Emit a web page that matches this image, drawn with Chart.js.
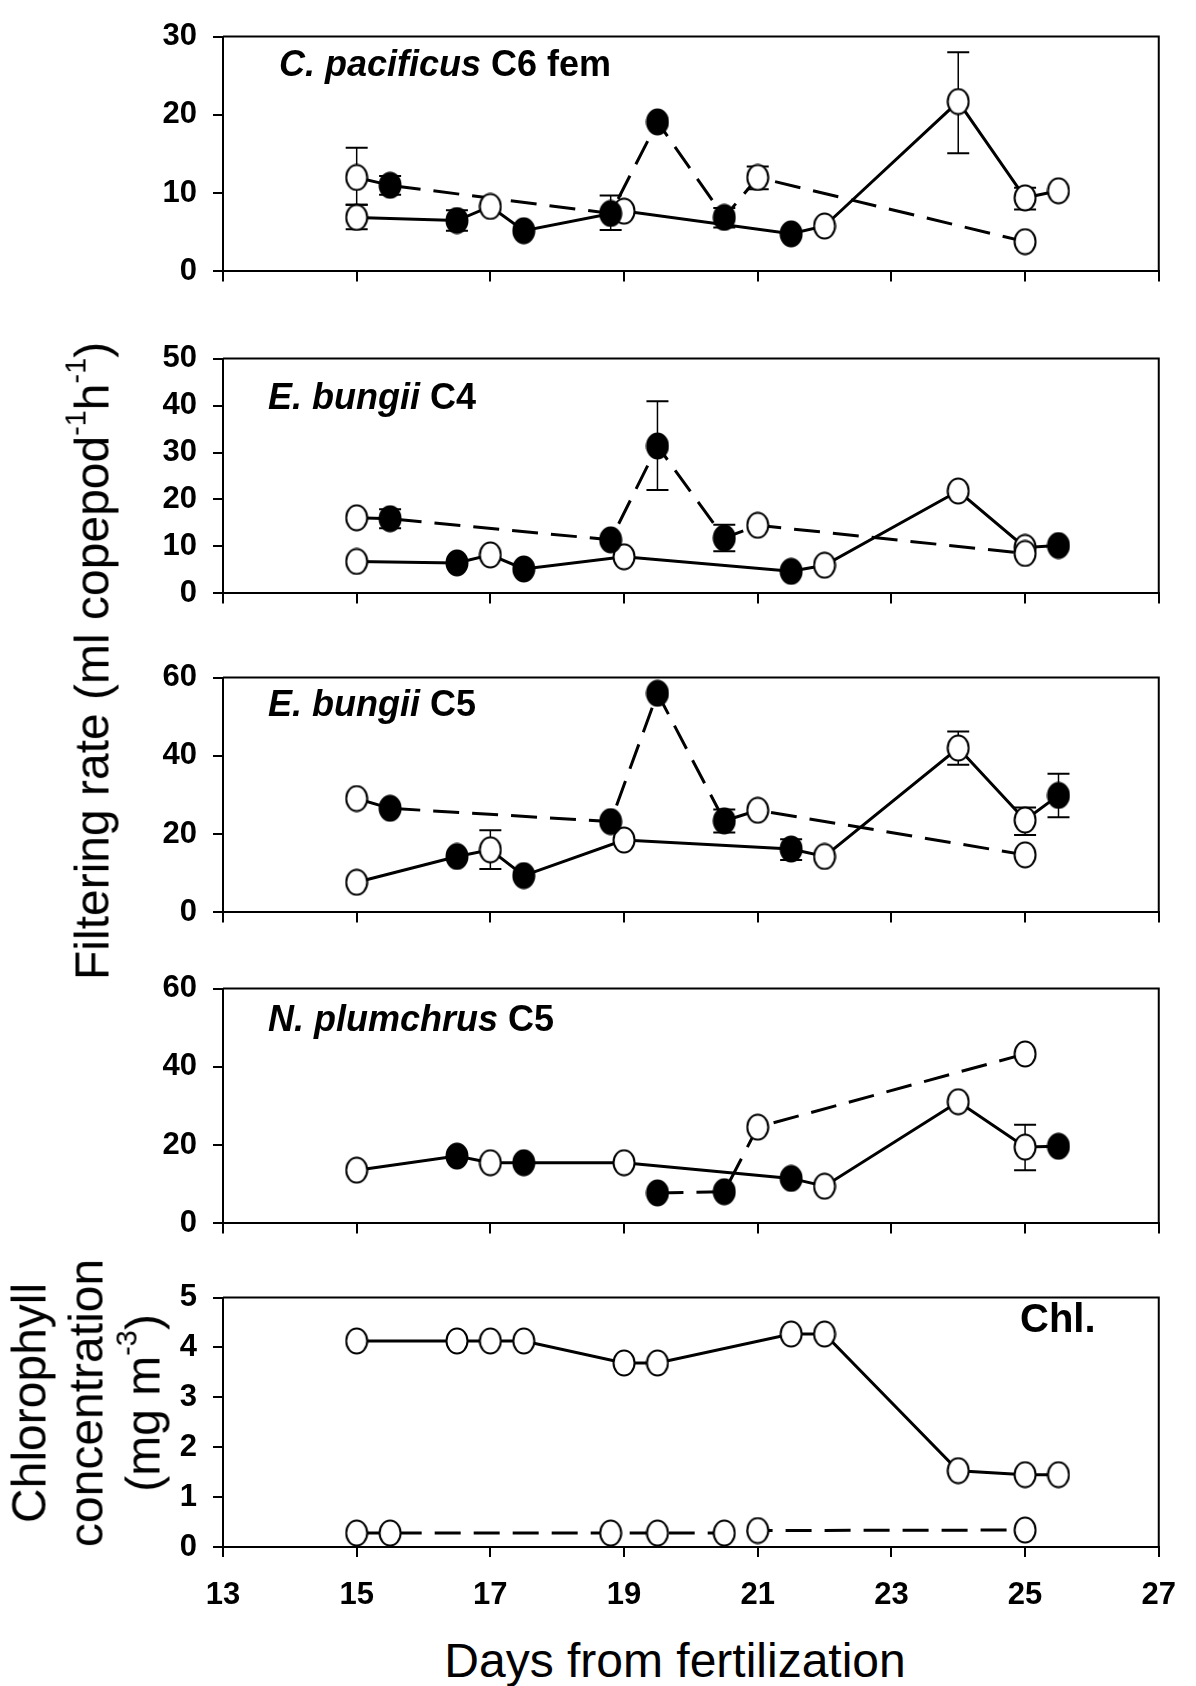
<!DOCTYPE html>
<html>
<head>
<meta charset="utf-8">
<script src="https://cdn.jsdelivr.net/npm/chart.js@4.4.1/dist/chart.umd.min.js"></script>
<style>
  html, body { margin: 0; padding: 0; background: #fff; }
  #wrap { position: relative; width: 1196px; height: 1686px; overflow: hidden; font-family: "Liberation Sans", Arial, sans-serif; color: #000; }
  canvas { position: absolute; left: 0; }
  .label { position: absolute; font-weight: bold; font-size: 36px; line-height: 36px; white-space: nowrap; z-index: 2; }
  .title { position: absolute; font-size: 48px; line-height: 57px; white-space: nowrap; text-align: center; z-index: 2; }
  .rot { transform: translate(-50%, -50%) rotate(-90deg); }
  sup { font-size: 60%; line-height: 0; vertical-align: 0.8em; }
</style>
</head>
<body>
<div id="wrap">
  <canvas id="p1"></canvas>
  <canvas id="p2"></canvas>
  <canvas id="p3"></canvas>
  <canvas id="p4"></canvas>
  <canvas id="p5"></canvas>

  <div class="label" style="left:279px; top:46px;"><i>C. pacificus</i> C6 fem</div>
  <div class="label" style="left:268px; top:379px;"><i>E. bungii</i> C4</div>
  <div class="label" style="left:268px; top:686px;"><i>E. bungii</i> C5</div>
  <div class="label" style="left:268px; top:1001px;"><i>N. plumchrus</i> C5</div>
  <div class="label" style="left:1020px; top:1298px; font-size:40px; line-height:40px;">Chl.</div>

  <div class="title rot" style="left:92px; top:661px;">Filtering rate (ml copepod<sup>-1</sup>h<sup>-1</sup>)</div>
  <div class="title rot" style="left:86px; top:1403px;">Chlorophyll<br>concentration<br>(mg m<sup>-3</sup>)</div>
  <div class="title" style="left:675px; top:1632px; transform: translateX(-50%);">Days from fertilization</div>
</div>

<script>
// x axis (days from fertilization), shared by all panels
const xTickValues = [13, 15, 17, 19, 21, 23, 25, 27];

// C. pacificus C6 fem
const cpYTicks = [0, 10, 20, 30];
const cpSolidDay = [15, 16.5, 17, 17.5, 19, 21.5, 22, 24, 25, 25.5];
const cpSolidRate = [6.9, 6.5, 8.3, 5.2, 7.7, 4.8, 5.8, 21.7, 9.4, 10.3];
const cpSolidFill = [0, 1, 0, 1, 0, 1, 0, 0, 0, 0];
const cpSolidLo = [5.4, 5.2, null, null, null, null, null, 15.1, 7.9, null];
const cpSolidHi = [8.5, 7.8, null, null, null, null, null, 28.0, 10.7, null];
const cpDashDay = [15, 15.5, 18.8, 19.5, 20.5, 21, 25];
const cpDashRate = [12.0, 11.0, 7.4, 19.1, 6.9, 12.0, 3.8];
const cpDashFill = [0, 1, 1, 1, 1, 0, 0];
const cpDashLo = [8.5, 9.8, 5.3, null, 5.6, 10.5, null];
const cpDashHi = [15.8, 12.2, 9.7, null, 8.1, 13.4, null];

// E. bungii C4
const eb4YTicks = [0, 10, 20, 30, 40, 50];
const eb4SolidDay = [15, 16.5, 17, 17.5, 19, 21.5, 22, 24, 25, 25.5];
const eb4SolidRate = [6.8, 6.5, 8.2, 5.2, 7.8, 4.7, 6.0, 21.8, 9.8, 10.2];
const eb4SolidFill = [0, 1, 0, 1, 0, 1, 0, 0, 0, 1];
const eb4DashDay = [15, 15.5, 18.8, 19.5, 20.5, 21, 25];
const eb4DashRate = [16.1, 15.9, 11.4, 31.4, 11.8, 14.5, 8.5];
const eb4DashFill = [0, 1, 1, 1, 1, 0, 0];
const eb4DashLo = [null, 13.9, null, 22.0, 9.0, null, null];
const eb4DashHi = [null, 17.9, null, 40.9, 14.6, null, null];

// E. bungii C5
const eb5YTicks = [0, 20, 40, 60];
const eb5SolidDay = [15, 16.5, 17, 17.5, 19, 21.5, 22, 24, 25, 25.5];
const eb5SolidRate = [7.7, 14.3, 16.0, 9.4, 18.5, 16.2, 14.3, 42.0, 23.6, 29.9];
const eb5SolidFill = [0, 1, 0, 1, 0, 1, 0, 0, 0, 1];
const eb5SolidLo = [null, null, 11.1, null, null, 13.4, null, 37.7, 19.8, 24.3];
const eb5SolidHi = [null, null, 21.0, null, null, 18.7, null, 46.2, 26.8, 35.4];
const eb5DashDay = [15, 15.5, 18.8, 19.5, 20.5, 21, 25];
const eb5DashRate = [29.1, 26.6, 23.2, 56.0, 23.4, 26.1, 14.7];
const eb5DashFill = [0, 1, 1, 1, 1, 0, 0];
const eb5DashLo = [null, null, null, null, 20.4, null, null];
const eb5DashHi = [null, null, null, null, 26.3, null, null];

// N. plumchrus C5
const npYTicks = [0, 20, 40, 60];
const npSolidDay = [15, 16.5, 17, 17.5, 19, 21.5, 22, 24, 25, 25.5];
const npSolidRate = [13.6, 17.2, 15.5, 15.5, 15.5, 11.5, 9.5, 31.1, 19.5, 19.7];
const npSolidFill = [0, 1, 0, 1, 0, 1, 0, 0, 0, 1];
const npSolidLo = [null, null, null, null, null, null, null, null, 13.6, null];
const npSolidHi = [null, null, null, null, null, null, null, null, 25.2, null];
const npDashDay = [19.5, 20.5, 21, 25];
const npDashRate = [7.8, 8.1, 24.6, 43.3];
const npDashFill = [1, 1, 0, 0];

// Chlorophyll
const chlYTicks = [0, 1, 2, 3, 4, 5];
const chlSolidDay = [15, 16.5, 17, 17.5, 19, 19.5, 21.5, 22, 24, 25, 25.5];
const chlSolidConc = [4.13, 4.13, 4.13, 4.13, 3.69, 3.69, 4.27, 4.27, 1.53, 1.45, 1.45];
const chlDashDay = [15, 15.5, 18.8, 19.5, 20.5, 21, 25];
const chlDashConc = [0.28, 0.28, 0.28, 0.28, 0.28, 0.33, 0.34];

Chart.defaults.font.family = '"Liberation Sans", Arial, sans-serif';
Chart.defaults.color = '#000';

const PLOT_H = 264;
const TOP_PAD = 20;

// the symbols in the original are slightly taller than wide
function ovalMarker(filled) {
  const c = document.createElement('canvas');
  c.width = 24;
  c.height = 28;
  const g = c.getContext('2d');
  g.beginPath();
  g.ellipse(12, 14, 10.5, 12.5, 0, 0, Math.PI * 2);
  g.fillStyle = filled ? '#000' : '#fff';
  g.fill();
  g.lineWidth = 2;
  g.strokeStyle = '#000';
  g.stroke();
  return c;
}
const openMarker = ovalMarker(false);
const filledMarker = ovalMarker(true);

// top and right lines of the box
const framePlugin = {
  id: 'frame',
  beforeDatasetsDraw(chart) {
    const a = chart.chartArea, ctx = chart.ctx;
    ctx.save();
    ctx.strokeStyle = '#000';
    ctx.lineWidth = 2;
    ctx.beginPath();
    ctx.moveTo(a.left, a.top);
    ctx.lineTo(a.right, a.top);
    ctx.lineTo(a.right, a.bottom);
    ctx.stroke();
    ctx.restore();
  }
};

const errorBarPlugin = {
  id: 'errorBars',
  beforeDatasetsDraw(chart) {
    const ctx = chart.ctx, xs = chart.scales.x, ys = chart.scales.y;
    ctx.save();
    ctx.strokeStyle = '#000';
    chart.data.datasets.forEach(ds => {
      if (!ds.errLo) return;
      ds.data.forEach((pt, i) => {
        if (ds.errLo[i] == null) return;
        const px = xs.getPixelForValue(pt.x);
        const lo = ys.getPixelForValue(ds.errLo[i]);
        const hi = ys.getPixelForValue(ds.errHi[i]);
        ctx.lineWidth = 1.5;
        ctx.beginPath();
        ctx.moveTo(px, lo); ctx.lineTo(px, hi);
        ctx.stroke();
        ctx.lineWidth = 2;
        ctx.beginPath();
        ctx.moveTo(px - 11, lo); ctx.lineTo(px + 11, lo);
        ctx.moveTo(px - 11, hi); ctx.lineTo(px + 11, hi);
        ctx.stroke();
      });
    });
    ctx.restore();
  }
};

function toPoints(days, vals) {
  return days.map((d, i) => ({ x: d, y: vals[i] }));
}

function seriesSets(s) {
  const data = toPoints(s.day, s.val);
  const fill = s.fill || s.day.map(() => 0);
  return [
    {
      data: data,
      showLine: true,
      borderColor: '#000',
      borderWidth: 3,
      borderDash: s.dashed ? [26, 13] : [],
      pointRadius: 0,
      tension: 0,
      order: 2
    },
    {
      data: data,
      showLine: false,
      pointStyle: fill.map(f => f ? filledMarker : openMarker),
      pointRadius: 12,
      errLo: s.lo || null,
      errHi: s.hi || null,
      order: 1
    }
  ];
}

function makePanel(id, plotTop, yTicks, series, showXLabels) {
  const xAxisH = showXLabels ? 75 : 20;
  const canvas = document.getElementById(id);
  canvas.width = 1196;
  canvas.height = TOP_PAD + PLOT_H + xAxisH;
  canvas.style.top = (plotTop - TOP_PAD) + 'px';

  let datasets = [];
  series.forEach(s => { datasets = datasets.concat(seriesSets(s)); });

  return new Chart(canvas.getContext('2d'), {
    type: 'scatter',
    data: { datasets: datasets },
    options: {
      responsive: false,
      animation: false,
      events: [],
      layout: { padding: { left: 0, right: 24, top: TOP_PAD, bottom: 0 } },
      plugins: { legend: { display: false }, tooltip: { enabled: false } },
      scales: {
        x: {
          type: 'linear',
          min: xTickValues[0],
          max: xTickValues[xTickValues.length - 1],
          afterBuildTicks: sc => { sc.ticks = xTickValues.map(v => ({ value: v })); },
          afterFit: sc => { sc.height = xAxisH; },
          border: { display: true, color: '#000', width: 2 },
          grid: { drawOnChartArea: false, drawTicks: true, tickLength: 10, color: '#000', lineWidth: 2 },
          ticks: {
            color: showXLabels ? '#000' : 'rgba(0,0,0,0)',
            font: { size: 31, weight: 'bold' },
            padding: 20,
            maxRotation: 0,
            autoSkip: false
          }
        },
        y: {
          type: 'linear',
          min: yTicks[0],
          max: yTicks[yTicks.length - 1],
          afterBuildTicks: sc => { sc.ticks = yTicks.map(v => ({ value: v })); },
          afterFit: sc => { sc.width = 223; },
          border: { display: true, color: '#000', width: 2 },
          grid: { drawOnChartArea: false, drawTicks: true, tickLength: 10, color: '#000', lineWidth: 2 },
          ticks: {
            font: { size: 31, weight: 'bold' },
            padding: 16,
            autoSkip: false
          }
        }
      }
    },
    plugins: [framePlugin, errorBarPlugin]
  });
}

makePanel('p1', 22, cpYTicks, [
  { day: cpDashDay, val: cpDashRate, fill: cpDashFill, lo: cpDashLo, hi: cpDashHi, dashed: true },
  { day: cpSolidDay, val: cpSolidRate, fill: cpSolidFill, lo: cpSolidLo, hi: cpSolidHi, dashed: false }
], false);

makePanel('p2', 344, eb4YTicks, [
  { day: eb4DashDay, val: eb4DashRate, fill: eb4DashFill, lo: eb4DashLo, hi: eb4DashHi, dashed: true },
  { day: eb4SolidDay, val: eb4SolidRate, fill: eb4SolidFill, dashed: false }
], false);

makePanel('p3', 663, eb5YTicks, [
  { day: eb5DashDay, val: eb5DashRate, fill: eb5DashFill, lo: eb5DashLo, hi: eb5DashHi, dashed: true },
  { day: eb5SolidDay, val: eb5SolidRate, fill: eb5SolidFill, lo: eb5SolidLo, hi: eb5SolidHi, dashed: false }
], false);

makePanel('p4', 974, npYTicks, [
  { day: npDashDay, val: npDashRate, fill: npDashFill, dashed: true },
  { day: npSolidDay, val: npSolidRate, fill: npSolidFill, lo: npSolidLo, hi: npSolidHi, dashed: false }
], false);

makePanel('p5', 1283, chlYTicks, [
  { day: chlDashDay, val: chlDashConc, dashed: true },
  { day: chlSolidDay, val: chlSolidConc, dashed: false }
], true);
</script>
</body>
</html>
